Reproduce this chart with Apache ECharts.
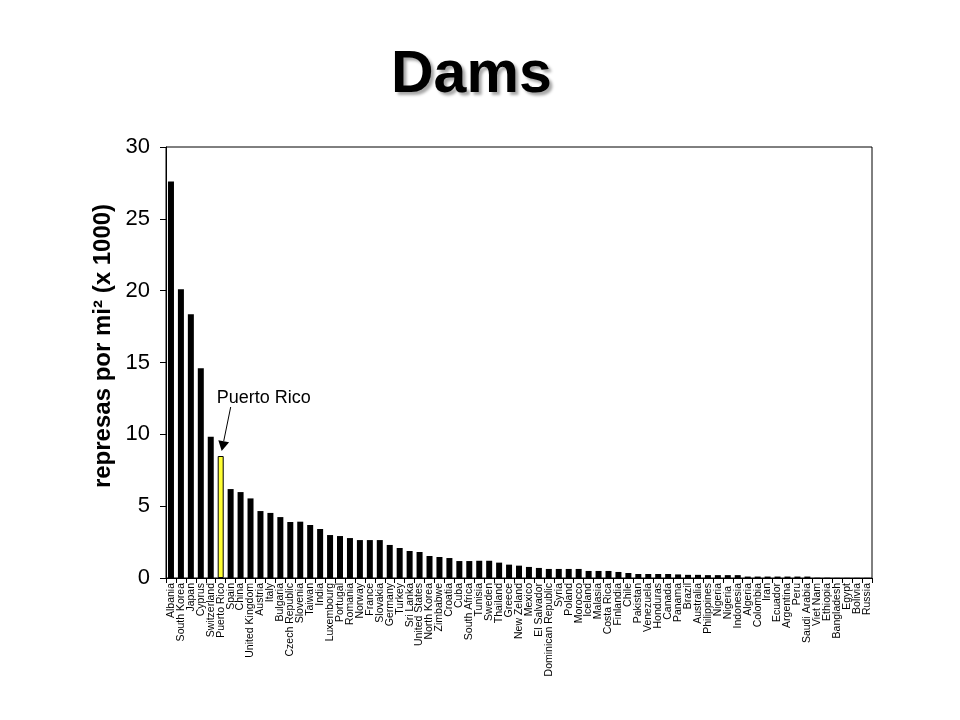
<!DOCTYPE html>
<html>
<head>
<meta charset="utf-8">
<script src="https://cdn.jsdelivr.net/npm/echarts@6/dist/echarts.min.js"></script>
<style>html,body{margin:0;padding:0;background:#fff}#c{width:960px;height:720px}</style>
</head>
<body>
<div id="c"></div>
<script>
const titleText = 'Dams';
const yAxisTitle = 'represas por mi² (x 1000)';
const annotationText = 'Puerto Rico';
const highlightCountry = 'Puerto Rico';
const yTicks = { min: 0, max: 30, interval: 5 };

const countries = [
  'Albania','South Korea','Japan','Cyprus','Switzerland','Puerto Rico','Spain','China','United Kingdom','Austria',
  'Italy','Bulgaria','Czech Republic','Slovenia','Taiwan','India','Luxembourg','Portugal','Romania','Norway',
  'France','Slovakia','Germany','Turkey','Sri Lanka','United States','North Korea','Zimbabwe','Croatia','Cuba',
  'South Africa','Tunisia','Sweden','Thailand','Greece','New Zeland','Mexico','El Salvador','Dominican Republic','Syria',
  'Poland','Morocco','Iceland','Malasia','Costa Rica','Finlandia','Chile','Pakistan','Venezuela','Honduras',
  'Canada','Panama','Brazil','Australia','Philippines','Nigeria','Nigeria ','Indonesia','Algeria','Colombia',
  'Iran','Ecuador','Argentina','Peru','Saudi Arabia','Viet Nam','Ethiopia','Bangladesh','Egypt','Bolivia','Russia'
];

const damsPerSqMi = [
  27.6, 20.1, 18.35, 14.6, 9.83, 8.49, 6.19, 5.98, 5.54, 4.66,
  4.53, 4.24, 3.9, 3.92, 3.69, 3.41, 2.99, 2.92, 2.78, 2.64,
  2.64, 2.64, 2.3, 2.09, 1.88, 1.81, 1.53, 1.46, 1.39, 1.18,
  1.18, 1.2, 1.2, 1.07, 0.93, 0.86, 0.77, 0.7, 0.63, 0.63,
  0.63, 0.63, 0.49, 0.49, 0.49, 0.42, 0.35, 0.28, 0.28, 0.28,
  0.28, 0.25, 0.22, 0.22, 0.2, 0.2, 0.2, 0.2, 0.1, 0.1,
  0.1, 0.1, 0.1, 0.1, 0.1, 0.02, 0.02, 0.01, 0.01, 0.01, 0.01
];

const FONT = '"Liberation Sans", Arial, sans-serif';
const chart = echarts.init(document.getElementById('c'), null, { renderer: 'canvas' });

const barData = damsPerSqMi.map((v, i) => countries[i] === highlightCountry
  ? { value: v, itemStyle: { color: '#ffff33', borderColor: '#000', borderWidth: 1 } }
  : v);

chart.setOption({
  backgroundColor: '#fff',
  animation: false,
  title: {
    text: titleText,
    left: 391, top: 46, padding: 0,
    textStyle: {
      fontFamily: FONT, fontWeight: 'bold', fontSize: 59, color: '#000',
      textShadowColor: 'rgba(0,0,0,0.35)', textShadowOffsetX: 3, textShadowOffsetY: 3, textShadowBlur: 3
    }
  },
  grid: { left: 166, right: 88, top: 147, bottom: 142, show: true, borderColor: '#000', borderWidth: 1 },
  xAxis: {
    type: 'category',
    data: countries,
    axisLine: { lineStyle: { color: '#000', width: 1 } },
    axisTick: { show: true, interval: 0, length: 5, lineStyle: { color: '#000' } },
    axisLabel: { interval: 0, rotate: 90, fontFamily: FONT, fontSize: 10.5, color: '#000', margin: 5 }
  },
  yAxis: {
    type: 'value',
    min: yTicks.min, max: yTicks.max, interval: yTicks.interval,
    splitLine: { show: false },
    axisLine: { show: true, lineStyle: { color: '#000', width: 1 } },
    axisTick: { show: true, length: 6, lineStyle: { color: '#000' } },
    axisLabel: { fontFamily: FONT, fontSize: 22, color: '#000', margin: 16 }
  },
  series: [{
    type: 'bar',
    data: barData,
    barWidth: 6,
    itemStyle: { color: '#000' }
  }]
});

function drawAnnotation() {
  const idx = countries.indexOf(highlightCountry);
  const p = chart.convertToPixel({ gridIndex: 0 }, [countries[idx], damsPerSqMi[idx]]);
  const tip = [p[0] + 1, p[1] - 5];
  const tail = [p[0] + 10, p[1] - 49];
  const dx = tip[0] - tail[0], dy = tip[1] - tail[1];
  const len = Math.sqrt(dx * dx + dy * dy);
  const ux = dx / len, uy = dy / len;
  const headLen = 10, headW = 5.5;
  const base = [tip[0] - ux * headLen, tip[1] - uy * headLen];
  const nx = -uy, ny = ux;
  chart.setOption({
    graphic: [
      {
        type: 'text',
        style: { text: yAxisTitle, font: 'bold 24px ' + FONT, fill: '#000', textAlign: 'center', textVerticalAlign: 'middle' },
        position: [103, 346], rotation: Math.PI / 2
      },
      {
        type: 'text',
        style: { text: annotationText, x: p[0] - 4, y: p[1] - 49, font: '18px ' + FONT, fill: '#000', textVerticalAlign: 'bottom' }
      },
      {
        type: 'line',
        shape: { x1: tail[0], y1: tail[1], x2: base[0], y2: base[1] },
        style: { stroke: '#000', lineWidth: 1 }
      },
      {
        type: 'polygon',
        shape: { points: [tip, [base[0] + nx * headW, base[1] + ny * headW], [base[0] - nx * headW, base[1] - ny * headW]] },
        style: { fill: '#000' }
      }
    ]
  });
}
drawAnnotation();
</script>
</body>
</html>
